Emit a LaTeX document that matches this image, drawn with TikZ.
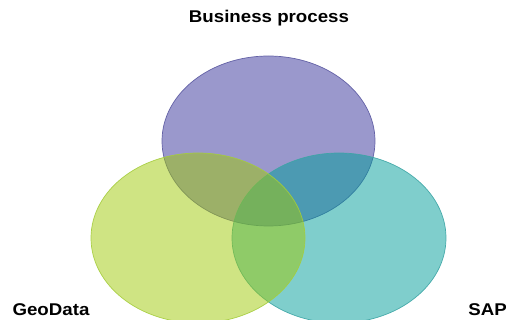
\documentclass[tikz,border=0pt]{standalone}
\usepackage{fontspec}
\setmainfont{Liberation Sans}
\definecolor{purpf}{RGB}{53,49,153}
\definecolor{purpl}{RGB}{90,88,160}
\definecolor{limef}{RGB}{159,201,7}
\definecolor{limel}{RGB}{165,205,60}
\definecolor{tealf}{RGB}{0,157,153}
\definecolor{teall}{RGB}{60,165,165}
\begin{document}
\begin{tikzpicture}[x=1pt,y=-1pt,
  venn/.style={fill opacity=0.5,draw opacity=0.9,line width=0.7pt},
  lbl/.style={font=\fontsize{17}{20}\selectfont\bfseries,text=black,inner sep=0pt,xscale=1.1}]
\useasboundingbox (0,0) rectangle (506,320);
\clip (0,0) rectangle (506,320);
\path[venn,fill=purpf,draw=purpl] (268.5,141) ellipse [x radius=106.5,y radius=85];
\path[venn,fill=tealf,draw=teall] (339,238) ellipse [x radius=107,y radius=85];
\path[venn,fill=limef,draw=limel] (198,238) ellipse [x radius=107,y radius=85];
\node[lbl] (bp) at (269,18) {Business process};
\node[lbl] (geo) at (51,310) {GeoData};
\node[lbl] (sap) at (487.5,310) {SAP};
\end{tikzpicture}
\end{document}
